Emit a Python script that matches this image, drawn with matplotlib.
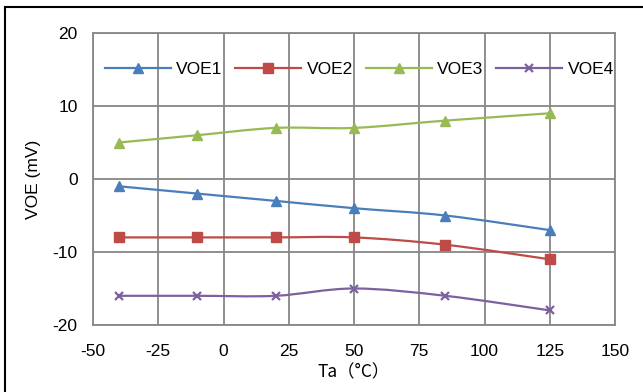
import numpy as np
import matplotlib
matplotlib.use("Agg")
import matplotlib.pyplot as plt
from matplotlib.path import Path
from matplotlib.patches import PathPatch, Rectangle
from matplotlib.lines import Line2D

ta = [-40, -10, 20, 50, 85, 125]
voe1 = [-1, -2, -3, -4, -5, -7]
voe2 = [-8, -8, -8, -8, -9, -11]
voe3 = [5, 6, 7, 7, 8, 9]
voe4 = [-16, -16, -16, -15, -16, -18]
names = ["VOE1", "VOE2", "VOE3", "VOE4"]
colors = ["#4A7EBB", "#BE4B48", "#98B954", "#7D60A0"]
markers = ["^", "s", "^", "x"]
xticks = [-50, -25, 0, 25, 50, 75, 100, 125, 150]
yticks = [-20, -10, 0, 10, 20]

plt.rcParams['font.family'] = ['Liberation Sans', 'DejaVu Sans']
plt.rcParams['axes.unicode_minus'] = False
fig = plt.figure(figsize=(6.43, 3.92), dpi=100)
ax = fig.add_axes([93/643, 1-325/392, (615-93)/643, (325-33)/392])

def smooth_path(x, y):
    x = np.asarray(x, float); y = np.asarray(y, float)
    verts = [(x[0], y[0])]
    codes = [Path.MOVETO]
    n = len(x)
    for i in range(n - 1):
        p0 = (x[max(i-1, 0)], y[max(i-1, 0)])
        p1 = (x[i], y[i]); p2 = (x[i+1], y[i+1])
        p3 = (x[min(i+2, n-1)], y[min(i+2, n-1)])
        c1 = (p1[0] + (p2[0]-p0[0])/6, p1[1] + (p2[1]-p0[1])/6)
        c2 = (p2[0] - (p3[0]-p1[0])/6, p2[1] - (p3[1]-p1[1])/6)
        verts += [c1, c2, p2]
        codes += [Path.CURVE4]*3
    return Path(verts, codes)

handles = []
for ys, nm, c, m in zip([voe1, voe2, voe3, voe4], names, colors, markers):
    ax.add_patch(PathPatch(smooth_path(ta, ys), fill=False, edgecolor=c, lw=1.6, zorder=3))
    ms = {"x": 6, "s": 6.5, "^": 7}[m]
    mew = 1.6 if m == "x" else 1
    ax.plot(ta, ys, linestyle="none", marker=m, color=c, ms=ms, mew=mew, zorder=4)
    handles.append(Line2D([], [], color=c, lw=1.6, marker=m, ms=ms, mew=mew, label=nm))

ax.set_xlim(-50, 150)
ax.set_ylim(-20, 20)
ax.set_xticks(xticks)
ax.set_yticks(yticks)
ax.grid(True, color="#878787", lw=1.3)
ax.set_axisbelow(True)
for s in ax.spines.values():
    s.set_color("#878787"); s.set_linewidth(1.3)
ax.tick_params(axis="x", length=0, labelsize=12.5, pad=14, colors="black")
ax.tick_params(axis="y", length=0, labelsize=12.5, pad=11, colors="black")
ax.set_xlabel("Ta（°C）", fontsize=12.5, labelpad=3, family=['Noto Sans CJK SC', 'DejaVu Sans'])
ax.set_ylabel("VOE (mV)", fontsize=12.5, labelpad=8)

leg = ax.legend(handles=handles, loc="upper center", bbox_to_anchor=(0.51, 0.925), ncol=4,
                frameon=False, fontsize=12.5, handlelength=3.8, handletextpad=0.3,
                columnspacing=0.75, borderaxespad=0)

fig.patches.append(Rectangle((5/643, -0.1), 1.2, 1 - 7/392 + 0.1, transform=fig.transFigure,
                             fill=False, edgecolor="black", lw=1.5))
fig.savefig("out.png", dpi=100)
